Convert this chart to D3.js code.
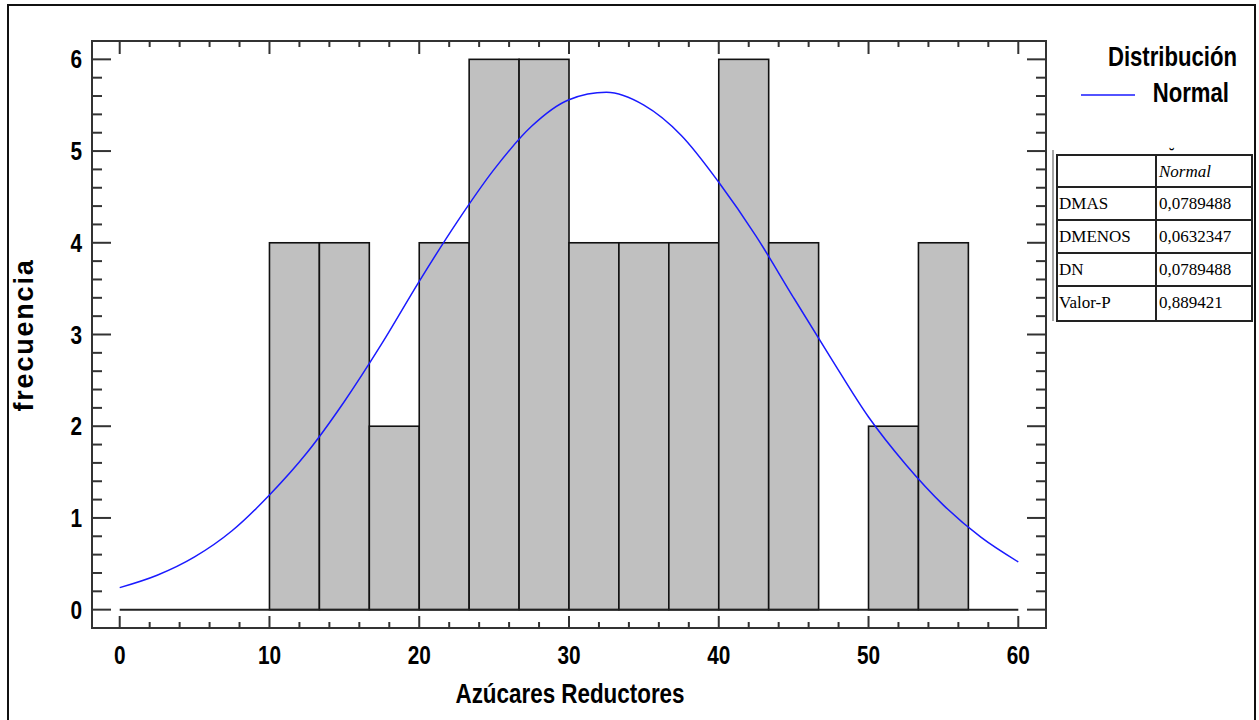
<!DOCTYPE html>
<html><head><meta charset="utf-8">
<script src="https://cdn.jsdelivr.net/npm/d3@7"></script>
<style>body{margin:0;background:#fff}svg{display:block}</style>
</head><body>
<svg id="c" width="1259" height="720"></svg>
<script>
// ---- data ----
const binStarts = [10, 13.333, 16.667, 20, 23.333, 26.667, 30, 33.333, 36.667, 40, 43.333, 46.667, 50, 53.333];
const binWidth = 3.3333;
const freqs = [4, 4, 2, 4, 6, 6, 4, 4, 4, 6, 4, 0, 2, 4];
const curveX = [0, 2.5, 5, 7.5, 10, 12.5, 15, 17.5, 20, 22.5, 25, 27.5, 30, 32.5, 35, 37.5, 40, 42.5, 45, 47.5, 50, 52.5, 55, 57.5, 60];
const curveY = [0.24, 0.375, 0.575, 0.86, 1.25, 1.71, 2.27, 2.9, 3.58, 4.22, 4.8, 5.27, 5.56, 5.64, 5.5, 5.17, 4.66, 4.07, 3.4, 2.74, 2.1, 1.58, 1.14, 0.79, 0.52];
const xTicks = [0, 10, 20, 30, 40, 50, 60];
const yTicks = [0, 1, 2, 3, 4, 5, 6];
const tableRows = ["DMAS", "DMENOS", "DN", "Valor-P"];
const tableVals = ["0,0789488", "0,0632347", "0,0789488", "0,889421"];
const tableHeader = "Normal";
const xTitle = "Azúcares Reductores";
const yTitle = "frecuencia";
const legendTitle = "Distribución";
const legendItem = "Normal";

// ---- layout ----
const svg = d3.select("#c");
const L = 92, R = 1046, T = 41, B = 628;
const x = d3.scaleLinear().domain([-1.85, 61.85]).range([L, R]);
const y = d3.scaleLinear().domain([-0.2, 6.2]).range([B, T]);
const sans = "'Liberation Sans',Arial,Helvetica,sans-serif";
const serif = "'Liberation Serif','Times New Roman',serif";
const axisCol = "#333";

// outer frame
svg.append("rect").attr("x", 8).attr("y", 5).attr("width", 1247).attr("height", 730)
  .attr("fill", "none").attr("stroke", "#111").attr("stroke-width", 2);

// bars
svg.append("g").selectAll("rect").data(binStarts.map((s, i) => ({s, f: freqs[i]})).filter(d => d.f > 0))
  .join("rect")
  .attr("x", d => x(d.s)).attr("width", d => x(d.s + binWidth) - x(d.s))
  .attr("y", d => y(d.f)).attr("height", d => y(0) - y(d.f))
  .attr("fill", "#c0c0c0").attr("stroke", "#111").attr("stroke-width", 1.6);

// baseline
svg.append("line").attr("x1", x(0)).attr("x2", x(60)).attr("y1", y(0)).attr("y2", y(0))
  .attr("stroke", "#222").attr("stroke-width", 2);

// normal curve
const line = d3.line().x((d, i) => x(curveX[i])).y(d => y(d)).curve(d3.curveMonotoneX);
svg.append("path").datum(curveY).attr("d", line).attr("fill", "none")
  .attr("stroke", "#1a1aff").attr("stroke-width", 1.5);

// plot box
svg.append("rect").attr("x", L).attr("y", T).attr("width", R - L).attr("height", B - T)
  .attr("fill", "none").attr("stroke", axisCol).attr("stroke-width", 2);

// ticks
const tg = svg.append("g").attr("stroke", axisCol).attr("stroke-width", 2);
const xMinor = d3.range(0, 61, 2).filter(v => v % 10 !== 0);
const yMinor = d3.range(0, 30.5, 1).map(v => v / 5).filter(v => Math.abs(v - Math.round(v)) > 1e-6);
xTicks.forEach(v => {
  tg.append("line").attr("x1", x(v)).attr("x2", x(v)).attr("y1", B).attr("y2", B - 12);
  tg.append("line").attr("x1", x(v)).attr("x2", x(v)).attr("y1", T).attr("y2", T + 13);
});
xMinor.forEach(v => {
  tg.append("line").attr("x1", x(v)).attr("x2", x(v)).attr("y1", B).attr("y2", B - 6);
  tg.append("line").attr("x1", x(v)).attr("x2", x(v)).attr("y1", T).attr("y2", T + 6);
});
yTicks.forEach(v => {
  tg.append("line").attr("x1", L).attr("x2", L + 19).attr("y1", y(v)).attr("y2", y(v));
  tg.append("line").attr("x1", R).attr("x2", R - 19).attr("y1", y(v)).attr("y2", y(v));
});
yMinor.forEach(v => {
  tg.append("line").attr("x1", L).attr("x2", L + 10).attr("y1", y(v)).attr("y2", y(v));
  tg.append("line").attr("x1", R).attr("x2", R - 10).attr("y1", y(v)).attr("y2", y(v));
});

// tick labels (horizontally condensed bold sans)
svg.append("g").selectAll("text").data(xTicks).join("text")
  .attr("transform", d => `translate(${x(d)},664) scale(0.8,1)`).attr("text-anchor", "middle")
  .attr("font-family", sans).attr("font-weight", "bold").attr("font-size", 26).attr("fill", "#000")
  .text(d => d);
svg.append("g").selectAll("text").data(yTicks).join("text")
  .attr("transform", d => `translate(82,${y(d) + 9}) scale(0.8,1)`).attr("text-anchor", "end")
  .attr("font-family", sans).attr("font-weight", "bold").attr("font-size", 26).attr("fill", "#000")
  .text(d => d);

// axis titles
svg.append("text").attr("transform", "translate(570,703) scale(0.83,1)").attr("text-anchor", "middle")
  .attr("font-family", sans).attr("font-weight", "bold").attr("font-size", 27).text(xTitle);
svg.append("text").attr("transform", "translate(33,335) rotate(-90)").attr("text-anchor", "middle")
  .attr("font-family", sans).attr("font-weight", "bold")
  .attr("font-size", 27).attr("letter-spacing", 1.8).text(yTitle);

// legend
svg.append("text").attr("transform", "translate(1237,66) scale(0.82,1)").attr("text-anchor", "end")
  .attr("font-family", sans).attr("font-weight", "bold").attr("font-size", 27).text(legendTitle);
svg.append("text").attr("transform", "translate(1229,102) scale(0.82,1)").attr("text-anchor", "end")
  .attr("font-family", sans).attr("font-weight", "bold").attr("font-size", 27).text(legendItem);
svg.append("line").attr("x1", 1081).attr("x2", 1135).attr("y1", 95).attr("y2", 95)
  .attr("stroke", "#1a1aff").attr("stroke-width", 1.5);

// table
const tx0 = 1057, tx1 = 1156, tx2 = 1252;
const rowY = [155, 187, 220, 253, 286, 321];
svg.append("line").attr("x1", 1053).attr("x2", 1053).attr("y1", 150).attr("y2", 321)
  .attr("stroke", "#888").attr("stroke-width", 1.5);
const tb = svg.append("g").attr("stroke", "#222").attr("stroke-width", 2);
tb.append("rect").attr("x", tx0).attr("y", rowY[0]).attr("width", tx2 - tx0).attr("height", rowY[5] - rowY[0]).attr("fill", "#fff");
rowY.slice(1, 5).forEach(v => tb.append("line").attr("x1", tx0).attr("x2", tx2).attr("y1", v).attr("y2", v));
tb.append("line").attr("x1", tx1).attr("x2", tx1).attr("y1", rowY[0]).attr("y2", rowY[5]);
svg.append("text").attr("x", 1169).attr("y", 160).attr("font-family", serif).attr("font-weight", "bold")
  .attr("font-size", 16).text("˘");
svg.append("text").attr("x", tx1 + 3).attr("y", rowY[0] + 22).attr("font-family", serif)
  .attr("font-style", "italic").attr("font-size", 17).text(tableHeader);
tableRows.forEach((r, i) => {
  const yy = rowY[i + 1] + 22;
  svg.append("text").attr("x", tx0 + 2).attr("y", yy).attr("font-family", serif).attr("font-size", 17)
    .text(r);
  svg.append("text").attr("x", tx1 + 3).attr("y", yy).attr("font-family", serif).attr("font-size", 17)
    .text(tableVals[i]);
});
</script>
</body></html>
